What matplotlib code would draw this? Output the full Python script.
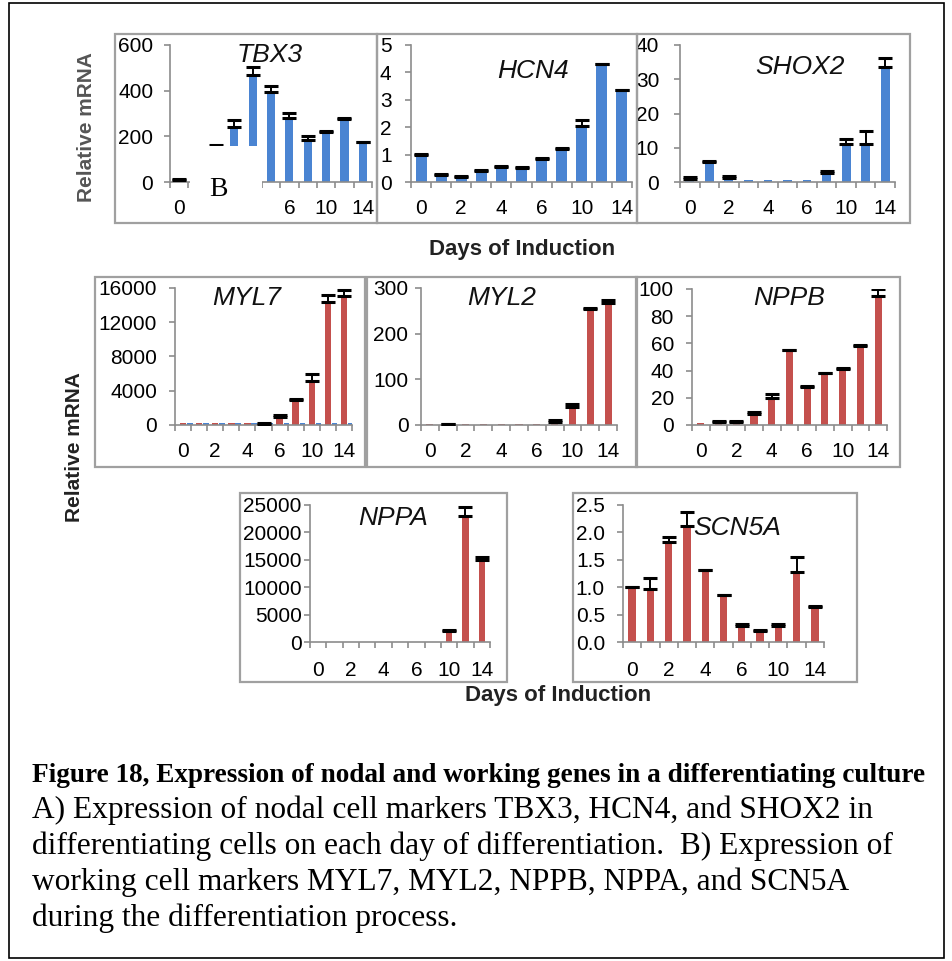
import numpy as np
import matplotlib
matplotlib.use("Agg")
import matplotlib.pyplot as plt
from matplotlib.patches import Rectangle

# days sampled, every other one gets a label (Excel style)
days = ["0", "1", "2", "3", "4", "5", "6", "8", "10", "12", "14"]
shown_days = ["0", "2", "4", "6", "10", "14"]
# on the TBX3 panel the labels 2 and 4 sit under a pasted white patch
tbx3_days = ["0", "6", "10", "14"]

# nodal markers (blue)
tbx3 = [10, 60, 150, 241, 468, 395, 282, 186, 220, 278, 173]
tbx3_err = [2, 10, 10, 30, 37, 25, 18, 14, 4, 3, 3]
hcn4 = [1.0, 0.25, 0.2, 0.4, 0.55, 0.5, 0.85, 1.2, 2.05, 4.3, 3.35]
hcn4_err = [0.02, 0.05, 0.02, 0.05, 0.05, 0.03, 0.03, 0.03, 0.2, 0.02, 0.02]
shox2 = [1.0, 5.8, 1.2, 0.5, 0.5, 0.5, 0.5, 2.6, 11.2, 11.2, 33.7]
shox2_err = [0.5, 0.3, 0.6, np.nan, np.nan, np.nan, np.nan, 0.5, 1.3, 3.8, 2.6]

# working markers (red)
myl7 = [200, 200, 200, 200, 200, 150, 980, 2930, 5190, 14360, 15100]
myl7_err = [np.nan, np.nan, np.nan, np.nan, np.nan, 50, 190, 50, 780, 780, 620]
myl7_ref = [200] * 11
myl2 = [3, 2, 3, 3, 3, 3, 3, 7, 40, 255, 267]
myl2_err = [np.nan, 1, np.nan, np.nan, np.nan, np.nan, np.nan, 5, 7, 1, 6]
nppb = [1.7, 2.5, 2.5, 8.0, 20.0, 55.0, 28.0, 38.0, 41.0, 58.0, 95.0]
nppb_err = [np.nan, 0.3, 0.3, 1.8, 3.0, 0.5, 0.5, 0.5, 0.7, 0.5, 5.0]
nppa = [0, 0, 0, 0, 0, 0, 0, 0, 1950, 23000, 15000]
nppa_err = [np.nan] * 8 + [300, 1600, 600]
scn5a = [1.0, 0.96, 1.83, 2.12, 1.31, 0.86, 0.30, 0.20, 0.30, 1.28, 0.63]
scn5a_err = [0.0, 0.2, 0.09, 0.26, 0.0, 0.0, 0.03, 0.01, 0.02, 0.28, 0.02]

caption_title = "Figure 18, Expression of nodal and working genes in a differentiating culture"
caption_lines = [
    "A) Expression of nodal cell markers TBX3, HCN4, and SHOX2 in",
    "differentiating cells on each day of differentiation.  B) Expression of",
    "working cell markers MYL7, MYL2, NPPB, NPPA, and SCN5A",
    "during the differentiation process.",
]

BLUE = "#4a84d2"
RED = "#c4504d"
GREY = "#8c8c8c"
W, H = 953, 961

plt.rcParams["font.family"] = ["Liberation Sans", "DejaVu Sans"]

fig = plt.figure(figsize=(W / 100, H / 100), dpi=100)


def rect(x0, y0, x1, y1):
    return [x0 / W, 1 - y1 / H, (x1 - x0) / W, (y1 - y0) / H]


def box(x0, y0, x1, y1):
    fig.patches.append(Rectangle((x0 / W, 1 - y1 / H), (x1 - x0) / W, (y1 - y0) / H,
                                 transform=fig.transFigure, fill=False,
                                 edgecolor="#a0a0a0", lw=1.6, zorder=0))


def panel(ax_px, vals, errs, color, ymax, yticks, ylabels, title, title_xy,
          width=0.45, fs=15, ypad=9, xpad=12, labels=shown_days):
    ax = fig.add_axes(rect(*ax_px))
    x = np.arange(len(days))
    ax.bar(x, vals, width=width, color=color, zorder=2)
    e = np.array(errs, dtype=float)
    ok = ~np.isnan(e)
    v = np.array(vals, dtype=float)
    ax.errorbar(x[ok], v[ok], yerr=[np.zeros(ok.sum()), e[ok]], fmt="none",
                ecolor="black", elinewidth=1.4, capsize=5, capthick=2.2, zorder=3)
    ax.set_xlim(-0.5, len(days) - 0.5)
    ax.set_ylim(0, ymax)
    ax.set_yticks(yticks, ylabels)
    ax.set_xticks(np.arange(len(days) + 1) - 0.5, [""] * (len(days) + 1))
    ax.set_xticks([days.index(d) for d in labels], labels, minor=True)
    ax.tick_params(axis="x", which="major", length=4, color=GREY, width=1.2)
    ax.tick_params(axis="x", which="minor", length=0, pad=xpad, labelsize=fs)
    ax.tick_params(axis="y", length=4, color=GREY, width=1.2, pad=ypad, labelsize=fs)
    for s in ["top", "right"]:
        ax.spines[s].set_visible(False)
    for s in ["left", "bottom"]:
        ax.spines[s].set_color(GREY)
        ax.spines[s].set_linewidth(1.2)
    ax.patch.set_alpha(0)
    fig.text(title_xy[0] / W, 1 - title_xy[1] / H, title, fontsize=19,
             style="italic", ha="center", va="center", color="#111111")
    return ax


# ---- top row: nodal markers ----
box(115, 34, 377, 223)
box(377, 34, 637, 223)
box(637, 34, 910, 223)
panel((170, 45, 372, 182), tbx3, tbx3_err, BLUE, 600, [0, 200, 400, 600],
      ["0", "200", "400", "600"], "TBX3", (270, 55), width=0.45, ypad=8,
      labels=tbx3_days)
panel((411, 45, 632, 182), hcn4, hcn4_err, BLUE, 5, [0, 1, 2, 3, 4, 5],
      ["0", "1", "2", "3", "4", "5"], "HCN4", (533, 71), width=0.55, ypad=10)
panel((680, 45, 895, 182), shox2, shox2_err, BLUE, 40, [0, 10, 20, 30, 40],
      ["0", "10", "20", "30", "40"], "SHOX2", (800, 67), width=0.45, ypad=11)

# ---- middle row ----
box(95, 277, 365, 467)
box(367, 277, 637, 467)
box(636, 277, 900, 467)
ax7 = panel((175, 288, 352, 425), myl7, myl7_err, RED, 16000, [0, 4000, 8000, 12000, 16000],
            ["0", "4000", "8000", "12000", "16000"], "MYL7", (247, 298), width=0.4, ypad=9)
ax7.bar(np.arange(len(days)) + 0.42, myl7_ref, width=0.35, color=BLUE, zorder=1)
panel((421, 288, 617, 425), myl2, myl2_err, RED, 300, [0, 100, 200, 300],
      ["0", "100", "200", "300"], "MYL2", (502, 298), width=0.4, ypad=5)
panel((692, 289, 887, 425), nppb, nppb_err, RED, 100, [0, 20, 40, 60, 80, 100],
      ["0", "20", "40", "60", "80", "100"], "NPPB", (789, 298), width=0.4, ypad=9)

# ---- bottom row ----
box(240, 493, 507, 682)
box(573, 493, 857, 682)
panel((310, 505, 490, 642), nppa, nppa_err, RED, 25000, [0, 5000, 10000, 15000, 20000, 25000],
      ["0", "5000", "10000", "15000", "20000", "25000"], "NPPA", (393, 518), width=0.4,
      ypad=2, xpad=14)
panel((623, 505, 824, 642), scn5a, scn5a_err, RED, 2.5, [0, 0.5, 1.0, 1.5, 2.0, 2.5],
      ["0.0", "0.5", "1.0", "1.5", "2.0", "2.5"], "SCN5A", (737, 528), width=0.4, ypad=9,
      xpad=14)

# shared axis labels
fig.text(522 / W, 1 - 250 / H, "Days of Induction", fontsize=16, fontweight="bold",
         ha="center", va="center", color="#222222")
fig.text(558 / W, 1 - 695 / H, "Days of Induction", fontsize=16, fontweight="bold",
         ha="center", va="center", color="#222222")
fig.text(87 / W, 1 - 127 / H, "Relative mRNA", fontsize=15, fontweight="bold",
         rotation=90, ha="center", va="center", color="#555555")
fig.text(75 / W, 1 - 447 / H, "Relative mRNA", fontsize=15, fontweight="bold",
         rotation=90, ha="center", va="center", color="#222222")

# white patch with the stray panel letter over TBX3
fig.patches.append(Rectangle((190 / W, 1 - 210 / H), 72 / W, 64 / H, transform=fig.transFigure,
                             facecolor="white", edgecolor="none", zorder=10))
fig.text(218 / W, 1 - 190 / H, "B", fontsize=20, family="Liberation Serif",
         ha="center", va="center", zorder=11)

# outer frame
fig.patches.append(Rectangle((9 / W, 1 - 958 / H), 935 / W, 955 / H, transform=fig.transFigure,
                             fill=False, edgecolor="black", lw=1.2))

# caption
fig.text(32 / W, 1 - 782 / H, caption_title, fontsize=19.6, fontweight="bold",
         family="Liberation Serif", ha="left", va="baseline")
for i, line in enumerate(caption_lines):
    fig.text(32 / W, 1 - (818 + 36 * i) / H, line, fontsize=22.6,
             family="Liberation Serif", ha="left", va="baseline")

fig.savefig("out.png", dpi=100)
